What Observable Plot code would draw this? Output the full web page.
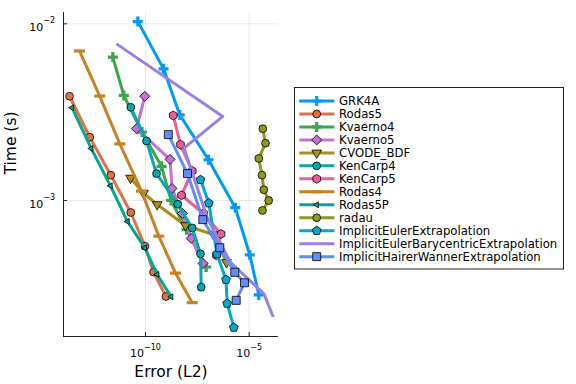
<!DOCTYPE html>
<html><head><meta charset="utf-8">
<script src="https://cdn.jsdelivr.net/npm/d3@7"></script>
<script src="https://cdn.jsdelivr.net/npm/@observablehq/plot@0.6"></script>
<style>
body{margin:0;background:#fff;}
#wrap{position:relative;width:576px;height:384px;font-family:"DejaVu Sans",sans-serif;}
</style></head><body><div id="wrap"></div>
<script>
const seriesNames = ["GRK4A","Rodas5","Kvaerno4","Kvaerno5","CVODE_BDF","KenCarp4","KenCarp5","Rodas4","Rodas5P","radau","ImplicitEulerExtrapolation","ImplicitEulerBarycentricExtrapolation","ImplicitHairerWannerExtrapolation"];

const errGRK4A = [4.25e-11, 7.4e-10, 4.5e-9, 1.09e-7, 2.14e-6, 1.07e-5, 2.9e-5];
const timeGRK4A = [0.0103, 0.00556, 0.00305, 0.00170, 9.1e-4, 4.92e-4, 2.92e-4];
const errRodas5 = [2.17e-14, 2.06e-13, 2.12e-12, 1.95e-11, 9.46e-11, 2.43e-10, 9.7e-10];
const timeRodas5 = [0.00389, 0.00228, 0.00139, 8.55e-4, 5.51e-4, 3.93e-4, 2.86e-4];
const errKvaerno4 = [2.65e-12, 9.0e-12, 6.8e-11, 5.9e-10, 1.7e-9, 9.5e-9, 8.45e-8];
const timeKvaerno4 = [0.00648, 0.00393, 0.00244, 0.00156, 0.0010, 6.83e-4, 4.2e-4];
const errKvaerno5 = [9.25e-11, 3.68e-11, 1.52e-9, 1.9e-9, 6.1e-9, 1.6e-8, 5.9e-8];
const timeKvaerno5 = [0.00389, 0.00255, 0.00171, 0.00117, 8.44e-4, 6.1e-4, 4.4e-4];
const errCVODE = [1.89e-11, 8.0e-11, 3.66e-10, 8.5e-9, 1.9e-7, 8.05e-7];
const timeCVODE = [0.00134, 0.0011, 9.49e-4, 7.22e-4, 6.42e-4, 4.46e-4];
const errKenCarp4 = [1.95e-11, 1.12e-10, 3.39e-10, 3.6e-9, 1.79e-8, 4.49e-8, 4.85e-8];
const timeKenCarp4 = [0.00337, 0.00217, 0.00142, 9.53e-4, 6.99e-4, 4.99e-4, 3.23e-4];
const errKenCarp5 = [2.17e-9, 4.87e-9, 1.79e-8, 5.45e-9, 6.26e-8, 4.37e-7, 2.65e-7];
const timeKenCarp5 = [0.00303, 0.00207, 0.00147, 0.00107, 8.44e-4, 6.46e-4, 4.89e-4];
const errRodas4 = [6.58e-14, 6.19e-13, 5.77e-12, 6.41e-11, 4.38e-10, 2.79e-9, 1.79e-8];
const timeRodas4 = [0.00702, 0.0039, 0.00209, 0.00113, 6.28e-4, 3.88e-4, 2.64e-4];
const errRodas5P = [2.86e-14, 2.41e-13, 2.05e-12, 1.36e-11, 9.25e-11, 3.66e-10, 1.73e-9];
const timeRodas5P = [0.00335, 0.00197, 0.00121, 7.6e-4, 5.39e-4, 3.81e-4, 2.85e-4];
const errRadau = [4.53e-5, 6.11e-5, 2.9e-5, 4.14e-5, 5.06e-5, 8.71e-5, 4.38e-5];
const timeRadau = [0.00255, 0.00211, 0.00173, 0.00139, 0.00115, 0.001, 8.78e-4];
const errIEE = [4.49e-8, 1.13e-7, 2.8e-7, 7.6e-7, 8.7e-7, 1.81e-6];
const timeIEE = [0.00131, 9.66e-4, 4.98e-4, 3.56e-4, 2.61e-4, 1.91e-4];
const errIEBE = [4.0e-12, 5.33e-7, 7.18e-9, 9.75e-8, 1.25e-6, 5.18e-5, 1.44e-4];
const timeIEBE = [0.0077, 0.00299, 0.00198, 7.91e-4, 4.46e-4, 2.96e-4, 2.19e-4];
const errIHWE = [1.26e-9, 1.06e-8, 5.8e-8, 3.82e-7, 2.02e-6, 5.93e-6, 2.36e-6];
const timeIHWE = [0.00236, 0.00142, 7.79e-4, 5.4e-4, 3.92e-4, 3.42e-4, 2.72e-4];

const xDomain = [1.11e-14, 2.59e-4];
const yDomain = [1.698e-4, 0.01159];
const xTicks = [1e-10, 1e-5];
const yTicks = [1e-3, 1e-2];

const colors = ["#009AFA","#E36F47","#3EA44E","#C371D2","#AC8E18","#00AAAE","#ED5E93","#C68225","#00A98D","#8E971E","#00A9CD","#9B7FE9","#618DF6"];
const shapes = ["plus","circle","plus","diamond","dtriangle","circle","hexagon","hline","ltriangle","circle","pentagon","none","square"];

const seriesErr = [errGRK4A, errRodas5, errKvaerno4, errKvaerno5, errCVODE, errKenCarp4, errKenCarp5, errRodas4, errRodas5P, errRadau, errIEE, errIEBE, errIHWE];
const seriesTime = [timeGRK4A, timeRodas5, timeKvaerno4, timeKvaerno5, timeCVODE, timeKenCarp4, timeKenCarp5, timeRodas4, timeRodas5P, timeRadau, timeIEE, timeIEBE, timeIHWE];

function poly(n, rot, r) {
  return {draw(ctx) {
    for (let k = 0; k < n; k++) {
      const a = rot + 2 * Math.PI * k / n;
      const x = r * Math.sin(a), y = -r * Math.cos(a);
      if (k) ctx.lineTo(x, y); else ctx.moveTo(x, y);
    }
    ctx.closePath();
  }};
}
const symbols = {
  circle: {draw(ctx){ ctx.moveTo(3.9,0); ctx.arc(0,0,3.9,0,2*Math.PI); }},
  square: {draw(ctx){ ctx.rect(-4,-4,8,8); }},
  diamond: poly(4, 0, 5),
  pentagon: poly(5, 0, 4.6),
  hexagon: poly(6, 0, 4.4),
  dtriangle: poly(3, Math.PI, 5.6),
  ltriangle: poly(3, -Math.PI/2, 3.4),
  plus: {draw(ctx){ const L=5, w=1.6;
    ctx.moveTo(-w,-L); ctx.lineTo(w,-L); ctx.lineTo(w,-w); ctx.lineTo(L,-w); ctx.lineTo(L,w); ctx.lineTo(w,w);
    ctx.lineTo(w,L); ctx.lineTo(-w,L); ctx.lineTo(-w,w); ctx.lineTo(-L,w); ctx.lineTo(-L,-w); ctx.lineTo(-w,-w); ctx.closePath(); }},
  hline: {draw(ctx){ ctx.rect(-5.5,-1.6,11,3.2); }}
};
const noOutline = new Set(["plus","hline"]);

const table = seriesNames.flatMap((name, i) => seriesErr[i].map((e, j) => ({name, err: e, time: seriesTime[i][j]})));

const seriesMarks = seriesNames.flatMap((name, i) => {
  const d = table.filter(r => r.name === name);
  const m = [Plot.line(d, {x: "err", y: "time", stroke: colors[i], strokeWidth: 3, strokeLinejoin: "round", strokeLinecap: "butt"})];
  if (shapes[i] !== "none") {
    m.push(Plot.dot(d, {x: "err", y: "time", r: 4, symbol: symbols[shapes[i]], fill: colors[i],
      stroke: noOutline.has(shapes[i]) ? "none" : "#000", strokeWidth: 0.8}));
  }
  return m;
});

const chart = Plot.plot({
  width: 576, height: 384,
  marginLeft: 63, marginRight: 298, marginTop: 12, marginBottom: 48,
  style: {fontFamily: "DejaVu Sans", fontSize: "11px", background: "white", color: "black", overflow: "visible"},
  x: {type: "log", domain: xDomain},
  y: {type: "log", domain: yDomain},
  marks: [
    Plot.gridX(xTicks, {stroke: "#000", strokeOpacity: 0.09, strokeWidth: 1}),
    Plot.gridY(yTicks, {stroke: "#000", strokeOpacity: 0.09, strokeWidth: 1}),
    ...seriesMarks,
    Plot.ruleX([xDomain[0]], {stroke: "#222", strokeWidth: 1}),
    Plot.ruleY([yDomain[0]], {stroke: "#222", strokeWidth: 1}),
    Plot.axisX({ticks: xTicks, tickSize: -4, tickFormat: () => "", label: null, stroke: "#222"}),
    Plot.axisY({ticks: yTicks, tickSize: -4, tickFormat: () => "", label: null, stroke: "#222"}),
    Plot.axisX({ticks: xTicks, tickSize: 0, tickPadding: 13, tickFormat: d => String(Math.round(Math.log10(d))), label: null, fontSize: 11}),
    Plot.axisY({ticks: yTicks, tickSize: 0, tickPadding: 8.5, dy: 3.5, tickFormat: d => String(Math.round(Math.log10(d))), label: null, fontSize: 11}),
    Plot.text(["Error (L2)"], {frameAnchor: "bottom", dy: 40.5, lineAnchor: "bottom", fontSize: 15.5}),
    Plot.text(["Time (s)"], {frameAnchor: "left", dx: -52, rotate: -90, fontSize: 15.5})
  ]
});

["x-axis tick label", "y-axis tick label"].forEach(lbl => {
  chart.querySelectorAll(`g[aria-label="${lbl}"] text`).forEach(t => {
    const e = t.textContent;
    if (!e) return;
    t.textContent = "10";
    const ts = document.createElementNS("http://www.w3.org/2000/svg", "tspan");
    ts.setAttribute("dy", "-7.5");
    ts.setAttribute("font-size", "8px");
    ts.textContent = e.replace("-", "\u2212").replace("\u2212\u2212", "\u2212");
    t.appendChild(ts);
  });
});

const wrap = document.getElementById("wrap");
wrap.appendChild(chart);

// legend
const lg = d3.select(wrap).append("svg")
  .attr("width", 576).attr("height", 384)
  .style("position", "absolute").style("left", "0px").style("top", "0px");
lg.append("rect").attr("x", 294.5).attr("y", 87.5).attr("width", 269).attr("height", 181.5)
  .attr("fill", "white").attr("stroke", "#222").attr("stroke-width", 1);
seriesNames.forEach((name, i) => {
  const cy = 101 + 12.97 * i;
  lg.append("line").attr("x1", 299.3).attr("x2", 334.3).attr("y1", cy).attr("y2", cy)
    .attr("stroke", colors[i]).attr("stroke-width", 3);
  if (shapes[i] !== "none") {
    lg.append("path").attr("d", d3.symbol(symbols[shapes[i]], 64)())
      .attr("transform", `translate(316.7,${cy})`)
      .attr("fill", colors[i])
      .attr("stroke", noOutline.has(shapes[i]) ? "none" : "#000").attr("stroke-width", 0.8);
  }
  lg.append("text").attr("x", 339).attr("y", cy + 4.2)
    .attr("font-family", "DejaVu Sans").attr("font-size", "11.7px").attr("fill", "#000")
    .text(name);
});
</script></body></html>
